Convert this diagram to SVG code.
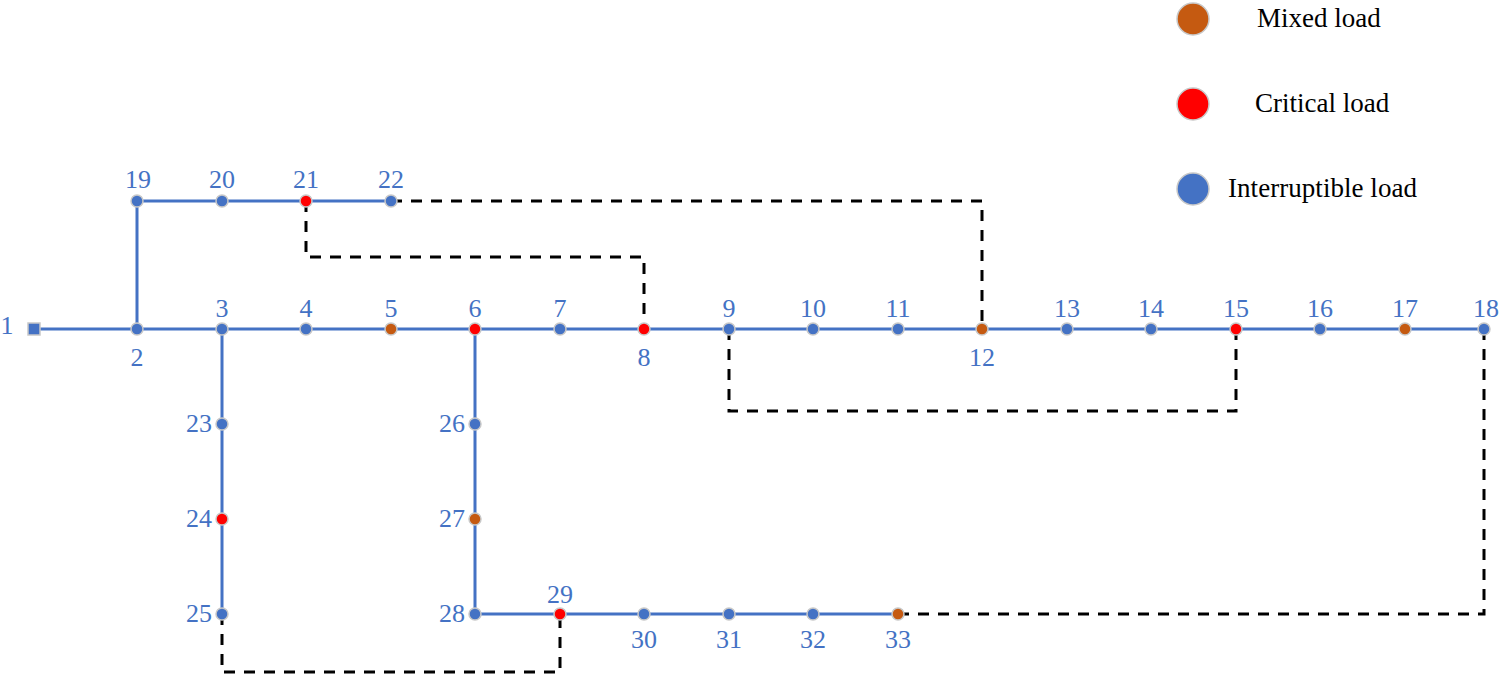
<svg xmlns="http://www.w3.org/2000/svg" width="1501" height="678" viewBox="0 0 1501 678">
<style>
.ln{stroke:#4472C4;stroke-width:3;fill:none}
.tie{stroke:#000;stroke-width:3;fill:none;stroke-dasharray:11 9}
.n{stroke:#C8C8C8;stroke-width:1.5}
.b{fill:#4472C4}.r{fill:#FF0000}.o{fill:#C55A11}
.lb{font-family:"Liberation Serif","Times New Roman",serif;font-size:26px;fill:#4472C4;text-anchor:middle}
.le{text-anchor:end}
.lg{font-family:"Liberation Serif","Times New Roman",serif;font-size:27px;fill:#000}
</style>
<rect width="1501" height="678" fill="#fff"/>
<g id="connectors">
<path class="ln" d="M34 329H1484M137 329V201H391M222 329V614M475 329V614H898"/>
<path class="tie" d="M391 201H982V329"/>
<path class="tie" d="M306 201V257H644V329"/>
<path class="tie" d="M729 329V411H1236V329"/>
<path class="tie" d="M1484 329V614H898"/>
<path class="tie" d="M222 614V672H560V614"/>
</g>
<g id="n1"><rect class="n b" x="28" y="323" width="12" height="12"/><text class="lb" x="7" y="334">1</text></g>
<g id="n2"><circle class="n b" cx="137" cy="329" r="6"/><text class="lb" x="137" y="366">2</text></g>
<g id="n3"><circle class="n b" cx="222" cy="329" r="6"/><text class="lb" x="222" y="317">3</text></g>
<g id="n4"><circle class="n b" cx="306" cy="329" r="6"/><text class="lb" x="306" y="317">4</text></g>
<g id="n5"><circle class="n o" cx="391" cy="329" r="6"/><text class="lb" x="391" y="317">5</text></g>
<g id="n6"><circle class="n r" cx="475" cy="329" r="6"/><text class="lb" x="475" y="317">6</text></g>
<g id="n7"><circle class="n b" cx="560" cy="329" r="6"/><text class="lb" x="560" y="317">7</text></g>
<g id="n8"><circle class="n r" cx="644" cy="329" r="6"/><text class="lb" x="644" y="366">8</text></g>
<g id="n9"><circle class="n b" cx="729" cy="329" r="6"/><text class="lb" x="729" y="317">9</text></g>
<g id="n10"><circle class="n b" cx="813" cy="329" r="6"/><text class="lb" x="813" y="317">10</text></g>
<g id="n11"><circle class="n b" cx="898" cy="329" r="6"/><text class="lb" x="898" y="317">11</text></g>
<g id="n12"><circle class="n o" cx="982" cy="329" r="6"/><text class="lb" x="982" y="366">12</text></g>
<g id="n13"><circle class="n b" cx="1067" cy="329" r="6"/><text class="lb" x="1067" y="317">13</text></g>
<g id="n14"><circle class="n b" cx="1151" cy="329" r="6"/><text class="lb" x="1151" y="317">14</text></g>
<g id="n15"><circle class="n r" cx="1236" cy="329" r="6"/><text class="lb" x="1236" y="317">15</text></g>
<g id="n16"><circle class="n b" cx="1320" cy="329" r="6"/><text class="lb" x="1320" y="317">16</text></g>
<g id="n17"><circle class="n o" cx="1405" cy="329" r="6"/><text class="lb" x="1405" y="317">17</text></g>
<g id="n18"><circle class="n b" cx="1484" cy="329" r="6"/><text class="lb" x="1486" y="317">18</text></g>
<g id="n19"><circle class="n b" cx="137" cy="201" r="6"/><text class="lb" x="138" y="188">19</text></g>
<g id="n20"><circle class="n b" cx="222" cy="201" r="6"/><text class="lb" x="222" y="188">20</text></g>
<g id="n21"><circle class="n r" cx="306" cy="201" r="6"/><text class="lb" x="306" y="188">21</text></g>
<g id="n22"><circle class="n b" cx="391" cy="201" r="6"/><text class="lb" x="391" y="188">22</text></g>
<g id="n23"><circle class="n b" cx="222" cy="424" r="6"/><text class="lb le" x="212" y="432">23</text></g>
<g id="n24"><circle class="n r" cx="222" cy="519" r="6"/><text class="lb le" x="212" y="527">24</text></g>
<g id="n25"><circle class="n b" cx="222" cy="614" r="6"/><text class="lb le" x="212" y="622">25</text></g>
<g id="n26"><circle class="n b" cx="475" cy="424" r="6"/><text class="lb le" x="465" y="432">26</text></g>
<g id="n27"><circle class="n o" cx="475" cy="519" r="6"/><text class="lb le" x="465" y="527">27</text></g>
<g id="n28"><circle class="n b" cx="475" cy="614" r="6"/><text class="lb le" x="465" y="622">28</text></g>
<g id="n29"><circle class="n r" cx="560" cy="614" r="6"/><text class="lb" x="560" y="603">29</text></g>
<g id="n30"><circle class="n b" cx="644" cy="614" r="6"/><text class="lb" x="644" y="648">30</text></g>
<g id="n31"><circle class="n b" cx="729" cy="614" r="6"/><text class="lb" x="729" y="648">31</text></g>
<g id="n32"><circle class="n b" cx="813" cy="614" r="6"/><text class="lb" x="813" y="648">32</text></g>
<g id="n33"><circle class="n o" cx="898" cy="614" r="6"/><text class="lb" x="898" y="648">33</text></g>
<g id="legend">
<circle class="n o" cx="1193" cy="19" r="16"/><text class="lg" x="1257" y="27">Mixed load</text>
<circle class="n r" cx="1193" cy="104" r="16"/><text class="lg" x="1255" y="112">Critical load</text>
<circle class="n b" cx="1193" cy="189" r="16"/><text class="lg" x="1228" y="197" textLength="189">Interruptible load</text>
</g>
</svg>
